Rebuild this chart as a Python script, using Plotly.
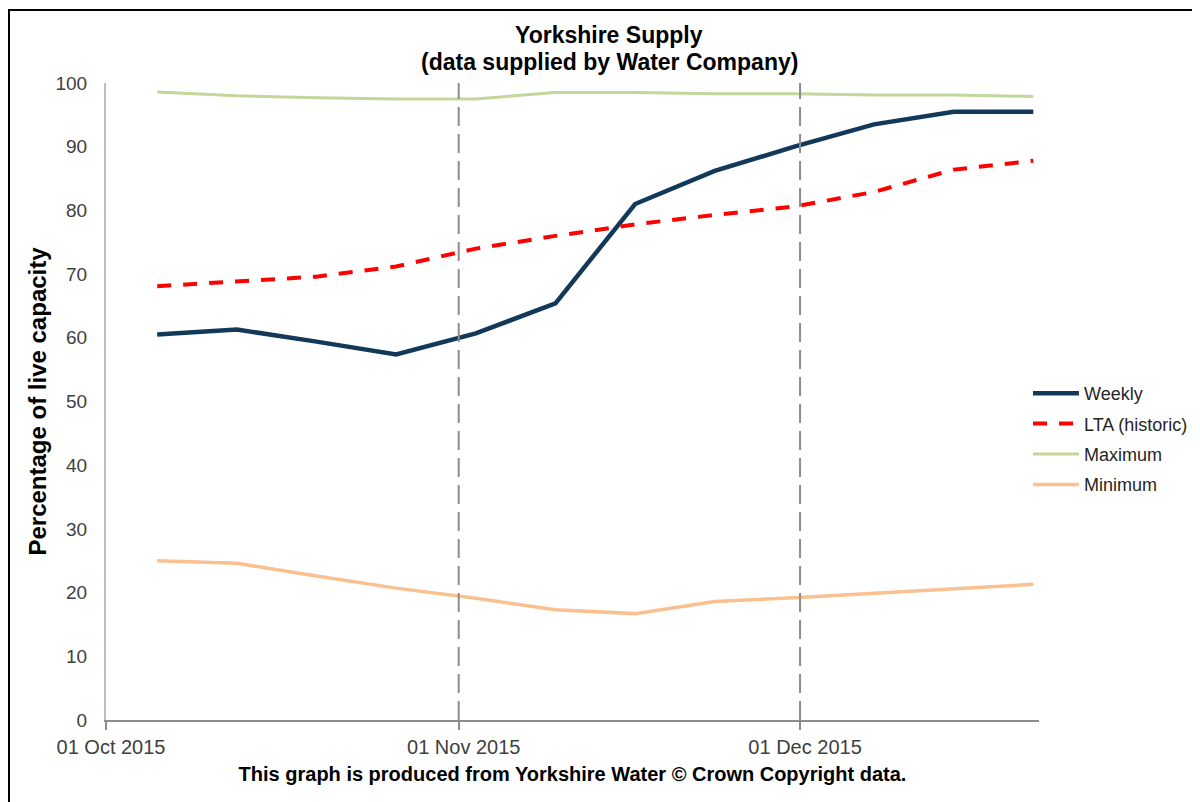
import pandas as pd
import plotly.graph_objects as go

# ---- data ----
week_dates = ["2015-10-05", "2015-10-12", "2015-10-19", "2015-10-26", "2015-11-02",
              "2015-11-09", "2015-11-16", "2015-11-23", "2015-11-30", "2015-12-07",
              "2015-12-14", "2015-12-21"]
weekly = [60.5, 61.3, 59.4, 57.4, 60.7, 65.4, 81.0, 86.2, 90.0, 93.5, 95.5, 95.5]
lta = [68.1, 68.8, 69.6, 71.2, 74.0, 76.0, 77.8, 79.3, 80.6, 82.9, 86.4, 87.8]
maximum = [98.6, 98.0, 97.7, 97.5, 97.5, 98.5, 98.5, 98.3, 98.3, 98.1, 98.1, 97.9]
minimum = [25.0, 24.6, 22.6, 20.7, 19.1, 17.3, 16.7, 18.6, 19.2, 19.9, 20.5, 21.3]

tick_dates = ["2015-10-01", "2015-11-01", "2015-12-01"]
tick_labels = ["01 Oct 2015", "01 Nov 2015", "01 Dec 2015"]
month_markers = ["2015-11-01", "2015-12-01"]
x_range = ["2015-10-01", "2015-12-22"]

# Excel date axes plot each value in the middle of its day
x = pd.to_datetime(week_dates) + pd.Timedelta(hours=12)

FONT = "Liberation Sans, Arial, sans-serif"
PAGE = 8  # default body margin of the html page
W, H = 1200 - PAGE, 802 - PAGE
L, T = 106 - PAGE, 83 - PAGE
R = W - (1039 - PAGE)
B = H - (720 - PAGE)
PW, PH = W - L - R, H - T - B


def px_x(p):  # page pixel -> paper x
    return (p - PAGE - L) / PW


def px_y(p):  # page pixel -> paper y
    return (H - B - (p - PAGE)) / PH


fig = go.Figure()
fig.add_trace(go.Scatter(x=x, y=weekly, mode="lines", name="Weekly",
                         line=dict(color="#12395A", width=4.5), legendgroup="a"))
fig.add_trace(go.Scatter(x=x, y=lta, mode="lines", name="LTA (historic)",
                         line=dict(color="#FF0000", width=4, dash="14px,12px"), legendgroup="b"))
fig.add_trace(go.Scatter(x=x, y=maximum, mode="lines", name="Maximum",
                         line=dict(color="#C3D69B", width=3), legendgroup="c"))
fig.add_trace(go.Scatter(x=x, y=minimum, mode="lines", name="Minimum",
                         line=dict(color="#FAC090", width=3.5), legendgroup="d"))

for d in month_markers:
    fig.add_shape(type="line", xref="x", yref="y", x0=d, x1=d, y0=0, y1=100,
                  line=dict(color="#8C8C8C", width=2, dash="19px,8px"), layer="above")

# outer frame
fig.add_shape(type="rect", xref="paper", yref="paper",
              x0=px_x(9), x1=px_x(1240), y0=px_y(840), y1=px_y(10),
              line=dict(color="black", width=2), fillcolor="rgba(0,0,0,0)")

# two-line chart title
for txt, ypix in [("<b>Yorkshire Supply</b>", 35), ("<b>(data supplied by Water Company)</b>", 62)]:
    fig.add_annotation(text=txt, xref="paper", yref="paper", x=px_x(609), y=px_y(ypix),
                       xanchor="center", yanchor="middle", showarrow=False,
                       font=dict(family=FONT, size=23, color="black"))

fig.update_layout(
    width=W, height=H,
    margin=dict(l=L, r=R, t=T, b=B, autoexpand=False),
    paper_bgcolor="white", plot_bgcolor="white",
    font=dict(family=FONT, color="#404040"),
    showlegend=True,
    legend=dict(x=px_x(1028), xanchor="left", y=px_y(375), yanchor="top",
                font=dict(family=FONT, size=18, color="#262626"),
                tracegroupgap=4, bgcolor="rgba(0,0,0,0)", itemwidth=46),
    xaxis=dict(type="date", range=x_range, tickvals=tick_dates, ticktext=tick_labels,
               automargin=False,
               showgrid=False, zeroline=False, showline=True, linecolor="#8C8C8C", linewidth=2,
               ticks="outside", ticklen=8, tickwidth=2, tickcolor="#8C8C8C",
               tickfont=dict(family=FONT, size=20, color="#404040"),
               ticklabelshift=5, ticklabelstandoff=0,
               title=dict(text="<b>This graph is produced from Yorkshire Water © Crown Copyright data.</b>",
                          font=dict(family=FONT, size=20, color="black"), standoff=10)),
    yaxis=dict(range=[0, 100], dtick=10, showgrid=False, zeroline=False,
               automargin=False,
               showline=True, linecolor="#BFBFBF", linewidth=2, ticks="",
               tickfont=dict(family=FONT, size=19, color="#404040"),
               ticklabelstandoff=13,
               title=dict(text="<b>Percentage of live capacity</b>",
                          font=dict(family=FONT, size=24, color="black"), standoff=2)),
)

fig.write_html("out.html")
